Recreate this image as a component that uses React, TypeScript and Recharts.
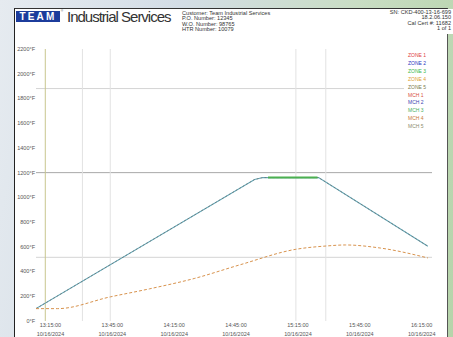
import { CartesianGrid, Line, LineChart, ReferenceLine, XAxis, YAxis } from "recharts"

// minutes after 13:15:00
const zoneTime = [-7, 99, 103, 130, 183]
const zoneTemp = [100, 1145, 1160, 1160, 605]
const mchTemp = [100, 1145, 1160, 1160, 605]
const holdTime = [105.5, 129.5]
const holdTemp = [1160, 1160]
const mch4Time = [-7, 3.5, 29, 48, 70, 92, 119, 134, 143, 160, 183]
const mch4Temp = [100, 100, 195, 260, 345, 455, 580, 607, 615, 590, 510]

const tickTimes = [0, 30, 60, 90, 120, 150, 180]
const tickClock = ["13:15:00", "13:45:00", "14:15:00", "14:45:00", "15:15:00", "15:45:00", "16:15:00"]
const tickDate = "10/16/2024"
const tempTicks = [0, 200, 400, 600, 800, 1000, 1200, 1400, 1600, 1800, 2000, 2200]
const markerTimes = [-2.5, 15.5, 29, 119, 133.5]
const limitTemps = [1880, 1200, 515]

const legendNames = ["ZONE 1", "ZONE 2", "ZONE 3", "ZONE 4", "ZONE 5", "MCH 1", "MCH 2", "MCH 3", "MCH 4", "MCH 5"]
const legendColors = ["#e04040", "#2a36c0", "#38b848", "#e0a030", "#7c7c4c", "#d85040", "#3844b0", "#48b060", "#c87838", "#8c8c6c"]

const headerLeft = ["Customer: Team Industrial Services", "P.O. Number: 12345", "W.O. Number: 98765", "HTR Number: 10079"]
const headerRight = ["SN: CKD-400-13-16-699", "18.2.06.150", "Cal Cert #: 11682", "1 of 1"]

const zoneData = zoneTime.map((t, i) => ({ t, temp: zoneTemp[i] }))
const mchData = zoneTime.map((t, i) => ({ t, temp: mchTemp[i] }))
const holdData = holdTime.map((t, i) => ({ t, temp: holdTemp[i] }))
const mch4Data = mch4Time.map((t, i) => ({ t, temp: mch4Temp[i] }))

const font = "'Liberation Sans', Arial, sans-serif"

function TimeTick({ x, y, payload }: any) {
  const i = tickTimes.indexOf(payload.value)
  return (
    <g>
      <text x={x} y={y + 6} textAnchor="middle" fontSize={5.5} fill="#555" fontFamily={font}>
        {tickClock[i]}
      </text>
      <text x={x} y={y + 14.5} textAnchor="middle" fontSize={5.5} fill="#555" fontFamily={font}>
        {tickDate}
      </text>
    </g>
  )
}

export default function App() {
  return (
    <div
      style={{
        position: "absolute",
        left: 0,
        top: 0,
        width: 453,
        height: 337,
        overflow: "hidden",
        background: "linear-gradient(100deg, #e6ebf0 0%, #d3dde6 35%, #c9ddc4 70%, #b6d4aa 100%)",
        fontFamily: font,
      }}
    >
      <div
        style={{
          position: "absolute",
          left: 14,
          top: 8,
          width: 432,
          height: 340,
          background: "#fff",
          borderLeft: "1.5px solid #222",
          borderTop: "1px solid #333",
          borderRight: "1px solid #555",
        }}
      />
      <div style={{ position: "absolute", left: 447, top: 9, width: 6, height: 25, background: "#fff" }} />

      <LineChart
        width={453}
        height={337}
        margin={{ top: 49, right: 21, bottom: 0, left: 15 }}
        style={{ position: "absolute", left: 0, top: 0 }}
      >
        <CartesianGrid stroke="none" />
        <XAxis
          dataKey="t"
          type="number"
          domain={[-7, 185]}
          ticks={tickTimes}
          allowDataOverflow
          axisLine={false}
          tickLine={false}
          tickSize={0}
          tickMargin={0}
          height={16}
          tick={<TimeTick />}
        />
        <YAxis
          type="number"
          domain={[0, 2200]}
          ticks={tempTicks}
          width={21}
          axisLine={false}
          tickLine={false}
          tickSize={0}
          tickMargin={1}
          tickFormatter={(v) => `${v}°F`}
          tick={{ fontSize: 5.5, fill: "#555", fontFamily: font }}
        />
        {limitTemps.map((v) => (
          <ReferenceLine key={v} y={v} stroke={v === 1200 ? "#a8a8a8" : "#d4d4d4"} strokeWidth={1} />
        ))}
        {markerTimes.map((t, i) => (
          <ReferenceLine
            key={t}
            x={t}
            stroke={i === 0 ? "#c9c68e" : "#e2e2e2"}
            strokeWidth={1}
            segment={[
              { x: t, y: 2190 },
              { x: t, y: 30 },
            ]}
          />
        ))}
        <Line
          data={zoneData}
          dataKey="temp"
          type="linear"
          stroke="#62a8b8"
          strokeWidth={1.1}
          dot={false}
          isAnimationActive={false}
        />
        <Line
          data={mchData}
          dataKey="temp"
          type="linear"
          stroke="#6c6c6c"
          strokeWidth={0.7}
          strokeDasharray="2 2"
          dot={false}
          isAnimationActive={false}
        />
        <Line
          data={mch4Data}
          dataKey="temp"
          type="monotone"
          stroke="#d8934e"
          strokeWidth={1}
          strokeDasharray="3 2"
          dot={false}
          isAnimationActive={false}
        />
        <Line
          data={holdData}
          dataKey="temp"
          type="linear"
          stroke="#4cb050"
          strokeWidth={2}
          dot={false}
          isAnimationActive={false}
        />
      </LineChart>

      <div
        style={{
          position: "absolute",
          left: 404,
          top: 50,
          width: 28,
          height: 82,
          background: "#fff",
        }}
      >
        {legendNames.map((n, i) => (
          <div
            key={n}
            style={{
              position: "absolute",
              left: 4,
              top: 2 + i * 7.9,
              fontSize: 5,
              lineHeight: "6px",
              color: legendColors[i],
              whiteSpace: "nowrap",
            }}
          >
            {n}
          </div>
        ))}
      </div>

      <div
        style={{
          position: "absolute",
          left: 16,
          top: 11,
          width: 44,
          height: 11,
          background: "#1c3c9c",
          color: "#fff",
          fontWeight: "bold",
          fontSize: 10,
          lineHeight: "11px",
          letterSpacing: 2.2,
          textAlign: "center",
        }}
      >
        TEAM
      </div>
      <div style={{ position: "absolute", left: 61, top: 9, fontSize: 3, color: "#444" }}>®</div>
      <div
        style={{
          position: "absolute",
          left: 67,
          top: 8,
          fontSize: 15,
          lineHeight: "17px",
          letterSpacing: -1,
          color: "#333",
          whiteSpace: "nowrap",
        }}
      >
        Industrial Services
      </div>
      {headerLeft.map((s, i) => (
        <div
          key={s}
          style={{
            position: "absolute",
            left: 182,
            top: 9.5 + i * 5.6,
            fontSize: 5.6,
            lineHeight: "6px",
            color: "#333",
            whiteSpace: "nowrap",
          }}
        >
          {s}
        </div>
      ))}
      {headerRight.map((s, i) => (
        <div
          key={s}
          style={{
            position: "absolute",
            right: 2,
            top: 9 + i * 5.4,
            fontSize: 5.6,
            lineHeight: "6px",
            color: "#333",
            whiteSpace: "nowrap",
            textAlign: "right",
          }}
        >
          {s}
        </div>
      ))}
    </div>
  )
}
